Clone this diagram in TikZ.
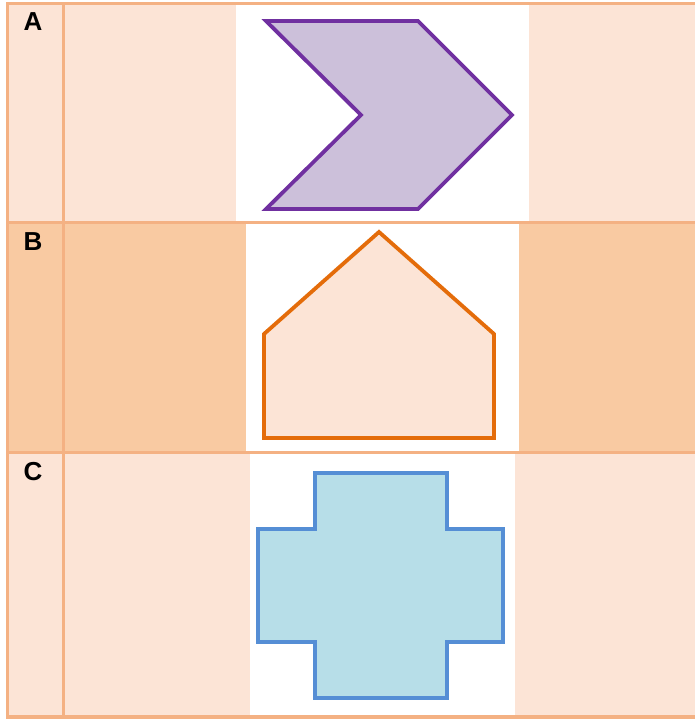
\documentclass[tikz,border=0pt]{standalone}
\usepackage{fontspec}
\setmainfont{Liberation Sans}
\definecolor{peach}{HTML}{FCE4D6}
\definecolor{peachdark}{HTML}{F9CAA2}
\definecolor{gridline}{HTML}{F4B183}
\definecolor{purplestroke}{HTML}{7030A0}
\definecolor{purplefill}{HTML}{CCC0DA}
\definecolor{orangestroke}{HTML}{E46C0A}
\definecolor{bluestroke}{HTML}{558ED5}
\definecolor{bluefill}{HTML}{B7DEE8}
\tikzset{
  grid/.style={draw=gridline, line width=3.5pt},
  shapeline/.style={line width=3.8pt, line join=miter},
  rowlabel/.style={font=\fontsize{26}{26}\selectfont\bfseries, inner sep=0pt}
}
\begin{document}
\begin{tikzpicture}[x=1pt,y=-1pt]
\useasboundingbox (0,0) rectangle (694,719);
% row backgrounds
\fill[peach] (7.5,3.5) rectangle (700,222.5);
\fill[peachdark] (7.5,222.5) rectangle (700,452.5);
\fill[peach] (7.5,452.5) rectangle (700,717);
% white picture areas
\fill[white] (236,5) rectangle (529,221);
\fill[white] (246,224) rectangle (519,451);
\fill[white] (250,454) rectangle (515,716);
% grid
\draw[grid] (700,3.5) -- (7.5,3.5) -- (7.5,717) -- (700,717);
\draw[grid] (63.5,3.5) -- (63.5,717);
\draw[grid] (7.5,222.5) -- (700,222.5);
\draw[grid] (7.5,452.5) -- (700,452.5);
% labels
\node[rowlabel] (la) at (33,22) {A};
\node[rowlabel] (lb) at (33,242) {B};
\node[rowlabel] (lc) at (33,472) {C};
% chevron
\draw[shapeline, draw=purplestroke, fill=purplefill]
  (266,21) -- (418,21) -- (512,115) -- (418,209) -- (266,209) -- (361,115) -- cycle;
% house
\draw[shapeline, draw=orangestroke, fill=peach]
  (379,232) -- (494,334) -- (494,438) -- (264,438) -- (264,334) -- cycle;
% cross
\draw[shapeline, draw=bluestroke, fill=bluefill]
  (315,473) -- (447,473) -- (447,529) -- (503,529) -- (503,642) -- (447,642)
  -- (447,698) -- (315,698) -- (315,642) -- (258,642) -- (258,529) -- (315,529) -- cycle;
\end{tikzpicture}
\end{document}
